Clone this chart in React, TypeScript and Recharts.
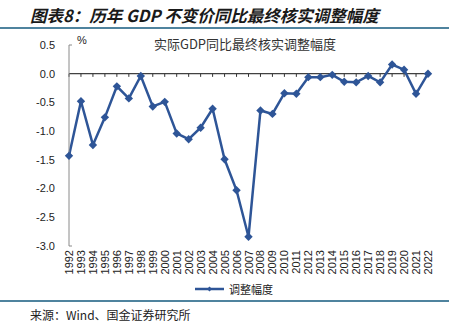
import React from 'react'
import {Line, LineChart, ReferenceLine, XAxis, YAxis} from "recharts"

const years = [1992, 1993, 1994, 1995, 1996, 1997, 1998, 1999, 2000, 2001, 2002, 2003, 2004, 2005, 2006, 2007,
  2008, 2009, 2010, 2011, 2012, 2013, 2014, 2015, 2016, 2017, 2018, 2019, 2020, 2021, 2022]
const adjust = [-1.43, -0.48, -1.24, -0.76, -0.22, -0.43, -0.04, -0.57, -0.49, -1.04, -1.14, -0.94, -0.61, -1.49,
  -2.03, -2.84, -0.64, -0.70, -0.34, -0.35, -0.06, -0.06, -0.02, -0.14, -0.15, -0.04, -0.15, 0.16, 0.07, -0.35, 0.0]
const yTicks = [0.5, 0, -0.5, -1, -1.5, -2, -2.5, -3]

const data = years.map((y, i) => ({year: y, v: adjust[i]}))

const BLUE = "#2E5597"
const RULE = "#4F839E"
const CJK = '"Noto Sans CJK SC", "Noto Sans", sans-serif'

const Diamond = (props: any) => {
  const {cx, cy} = props
  if (cx == null || cy == null) return null
  const r = 4.2
  return <path d={`M${cx},${cy - r}L${cx + r},${cy}L${cx},${cy + r}L${cx - r},${cy}Z`} fill={BLUE} />
}

const YearTick = (props: any) => {
  const {x, y, payload} = props
  return (
    <text x={x} y={y} transform={`rotate(-90, ${x}, ${y})`} textAnchor="end" dominantBaseline="central"
      fontSize={11} fill="#222" fontFamily="Arial, 'Liberation Sans', sans-serif">
      {payload.value}
    </text>
  )
}

function App() {
  return (
    <div style={{position: 'absolute', top: 0, left: 0, width: 458, height: 329, background: '#fff', fontFamily: CJK}}>
      <div style={{position: 'absolute', left: 30, top: 4, fontSize: 16.5, fontWeight: 'bold', fontStyle: 'italic',
        color: '#1a1a1a', whiteSpace: 'nowrap', lineHeight: '22px'}}>
        图表8：历年 GDP 不变价同比最终核实调整幅度
      </div>
      <div style={{position: 'absolute', left: 0, top: 27, width: 449, height: 2, background: RULE}} />
      <div style={{position: 'absolute', left: 0, top: 300, width: 449, height: 2, background: RULE}} />
      <div style={{position: 'absolute', left: 30, top: 307, fontSize: 12, color: '#222', whiteSpace: 'nowrap',
        lineHeight: '16px'}}>
        来源：Wind、国金证券研究所
      </div>
      <div style={{position: 'absolute', left: 0, top: 0}}>
        <LineChart width={458} height={329} data={data} margin={{top: 45, right: 30, bottom: 0, left: 0}}>
          <XAxis dataKey="year" type="number" domain={[1992, 2022]} ticks={years} interval={0}
            axisLine={false} tickLine={false} tickSize={0} tickMargin={4} tick={<YearTick />} height={83} />
          <YAxis domain={[-3, 0.5]} ticks={yTicks} interval={0} width={69} tickLine={false}
            axisLine={{stroke: '#8a8a8a', strokeWidth: 1}} tickMargin={8}
            tick={{fontSize: 11, fill: '#222', fontFamily: "Arial, 'Liberation Sans', sans-serif"}}
            tickFormatter={(v: number) => v.toFixed(1)} />
          <ReferenceLine y={0} stroke="#111" strokeWidth={1} />
          {years.map((yr) => (
            <ReferenceLine key={yr} segment={[{x: yr, y: 0}, {x: yr, y: -0.055}]} stroke="#333" strokeWidth={1} />
          ))}
          <ReferenceLine segment={[{x: 1992, y: 0.5}, {x: 1992.25, y: 0.5}]} stroke="#8a8a8a" />
          <ReferenceLine segment={[{x: 1992, y: -3}, {x: 1992.25, y: -3}]} stroke="#8a8a8a" />
          <Line dataKey="v" stroke={BLUE} strokeWidth={2.5} dot={<Diamond />} activeDot={false}
            isAnimationActive={false} />
        </LineChart>
      </div>
      <div style={{position: 'absolute', left: 194, top: 282, display: 'flex', alignItems: 'center', height: 14}}>
        <svg width={32} height={10}>
          <line x1={1} y1={5} x2={30} y2={5} stroke={BLUE} strokeWidth={2.5} />
          <path d="M15.5,2.5L18,5L15.5,7.5L13,5Z" fill={BLUE} />
        </svg>
        <span style={{fontSize: 11, color: '#222', marginLeft: 3, lineHeight: '14px'}}>调整幅度</span>
      </div>
      <div style={{position: 'absolute', left: 77, top: 34, fontSize: 11, color: '#222', fontFamily: 'Arial, sans-serif'}}>%</div>
      <div style={{position: 'absolute', left: 0, width: 490, textAlign: 'center', top: 35, fontSize: 13, color: '#333',
        whiteSpace: 'nowrap', lineHeight: '18px'}}>
        实际GDP同比最终核实调整幅度
      </div>
    </div>
  )
}

export default App
